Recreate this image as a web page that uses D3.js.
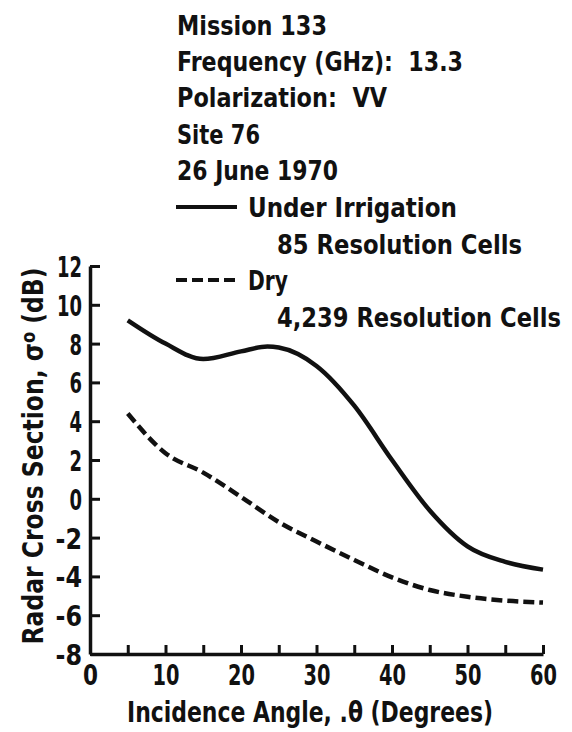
<!DOCTYPE html>
<html>
<head>
<meta charset="utf-8">
<script src="https://cdn.jsdelivr.net/npm/d3@7"></script>
<style>
  body { margin: 0; background: #fff; }
  svg text { font-family: "DejaVu Sans", sans-serif; font-weight: bold; fill: #111; white-space: pre; }
</style>
</head>
<body>
<svg></svg>
<script>
///////////////////////////////////////////
// Data
var angles     = [5, 10, 15, 20, 23.5, 25, 30, 35, 40, 45, 50, 55, 60];
var irrigated  = [9.2, 8.0, 7.2, 7.6, 7.85, 7.8, 6.85, 4.8, 2.0, -0.6, -2.45, -3.25, -3.65];
var dryAngles  = [5, 10, 15, 20, 25, 30, 35, 40, 45, 50, 55, 60];
var dry        = [4.4, 2.35, 1.35, 0.1, -1.2, -2.2, -3.15, -4.05, -4.7, -5.05, -5.25, -5.35];
var yTicks     = [-8, -6, -4, -2, 0, 2, 4, 6, 8, 10, 12];
var xTicks     = [0, 5, 10, 15, 20, 25, 30, 35, 40, 45, 50, 55, 60];
var headerLines = ["Mission 133", "Frequency (GHz):  13.3", "Polarization:  VV", "Site 76", "26 June 1970"];
var legendNames = ["Under Irrigation", "Dry"];
var legendCells = ["85 Resolution Cells", "4,239 Resolution Cells"];

///////////////////////////////////////////
// Layout
var svgWidth = 572, svgHeight = 732;
var margin = {top: 266, left: 90},
    width = 453,
    height = 388;
// widths the condensed lettering takes in the original
var headerWidths = [150, 286, 210, 83, 161],
    nameWidths = [209, 40],
    cellWidths = [245, 284];

// squeeze a text into a given width (no condensed bold face installed)
function fit(sel, w) {
  sel.attr("textLength", w).attr("lengthAdjust", "spacingAndGlyphs");
}
function labelWidth(s) {
  s = String(s);
  return s.replace("-", "").length * 12.5 + (s.indexOf("-") >= 0 ? 14 : 0);
}

var svg = d3.select("svg").attr("width", svgWidth).attr("height", svgHeight);
var g = svg.append("g").attr("transform", "translate(" + [margin.left, margin.top] + ")");

var x = d3.scaleLinear().domain([0, 60]).range([0, width]);
var y = d3.scaleLinear().domain([-8, 12]).range([height, 0]);

// axes, ticks pointing inward
var yAxis = d3.axisLeft(y).tickValues(yTicks).tickSize(-10).tickSizeOuter(0)
              .tickFormat(function(d) { return String(d); });
var xAxis = d3.axisBottom(x).tickValues(xTicks).tickSize(-9).tickSizeOuter(0)
              .tickFormat(function(d) { return d % 10 === 0 ? String(d) : ""; });

var gy = g.append("g").call(yAxis);
var gx = g.append("g").attr("transform", "translate(0," + height + ")").call(xAxis);

[gx, gy].forEach(function(a) {
  a.select(".domain").attr("stroke", "#111").attr("stroke-width", 3.5);
  a.selectAll(".tick line").attr("stroke", "#111").attr("stroke-width", 3);
  a.selectAll(".tick text").attr("fill", "#111").attr("font-family", null).attr("font-size", null);
});
gy.selectAll(".tick text")
  .style("font-size", "29px")
  .attr("x", -8).attr("dy", "0.36em")
  .each(function(d) { fit(d3.select(this), labelWidth(d)); });
gx.selectAll(".tick text")
  .style("font-size", "28px")
  .attr("y", 0).attr("dy", 31)
  .each(function(d) { if (d % 10 === 0) fit(d3.select(this), d === 0 ? 15 : 27); });
gx.selectAll(".tick").filter(function(d) { return d === 0; }).select("line").remove();

///////////////////////////////////////////
// curves
var line = d3.line().curve(d3.curveMonotoneX)
  .x(function(d) { return x(d[0]); })
  .y(function(d) { return y(d[1]); });

g.append("path")
  .datum(d3.zip(angles, irrigated))
  .attr("d", line)
  .attr("fill", "none").attr("stroke", "#111").attr("stroke-width", 4.5);

g.append("path")
  .datum(d3.zip(dryAngles, dry))
  .attr("d", line)
  .attr("fill", "none").attr("stroke", "#111").attr("stroke-width", 4.5)
  .attr("stroke-dasharray", "11,5");

///////////////////////////////////////////
// axis titles
var yTitle = svg.append("text")
  .attr("transform", "translate(43,456) rotate(-90)")
  .attr("text-anchor", "middle")
  .style("font-size", "29px")
  .html('Radar Cross Section, σ<tspan dy="-8" font-size="20px">o</tspan><tspan dy="8"> (dB)</tspan>');
fit(yTitle, 377);

var xTitle = svg.append("text")
  .attr("x", 310).attr("y", 722)
  .attr("text-anchor", "middle")
  .style("font-size", "28px")
  .text("Incidence Angle, .θ (Degrees)");
fit(xTitle, 366);

///////////////////////////////////////////
// header + legend
var hx = 177;
svg.selectAll("text.header").data(headerLines).enter().append("text")
  .classed("header", true)
  .attr("x", hx)
  .attr("y", function(d, i) { return 35 + i * 36.2; })
  .style("font-size", "27px")
  .text(function(d) { return d; })
  .each(function(d, i) { fit(d3.select(this), headerWidths[i]); });

var legendY = [217, 290];
var legend = svg.selectAll("g.legend").data(legendNames).enter().append("g").classed("legend", true);
legend.append("line")
  .attr("x1", hx - 1).attr("x2", 237)
  .attr("y1", function(d, i) { return legendY[i] - 10; })
  .attr("y2", function(d, i) { return legendY[i] - 10; })
  .attr("stroke", "#111").attr("stroke-width", 4)
  .attr("stroke-dasharray", function(d, i) { return i ? "11,5" : null; });
legend.append("text")
  .attr("x", 248).attr("y", function(d, i) { return legendY[i]; })
  .style("font-size", "27px")
  .text(function(d) { return d; })
  .each(function(d, i) { fit(d3.select(this), nameWidths[i]); });
legend.append("text")
  .attr("x", 277).attr("y", function(d, i) { return legendY[i] + 36.5; })
  .style("font-size", "27px")
  .text(function(d, i) { return legendCells[i]; })
  .each(function(d, i) { fit(d3.select(this), cellWidths[i]); });
</script>
</body>
</html>
